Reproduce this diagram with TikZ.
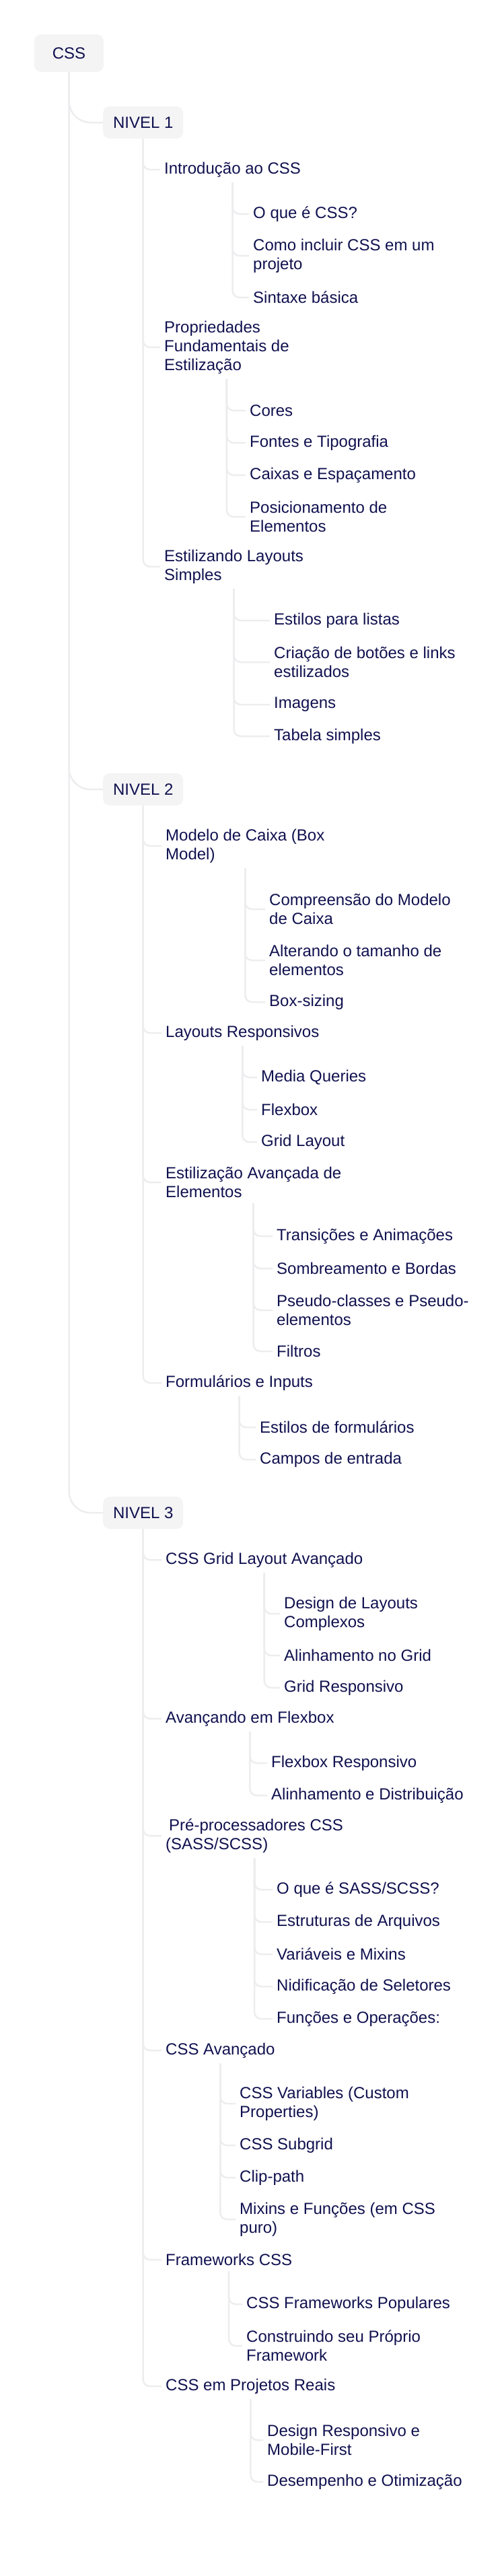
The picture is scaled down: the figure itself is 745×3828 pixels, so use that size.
\documentclass[tikz,border=0pt]{standalone}
\usepackage{fontspec}
\setmainfont{Liberation Sans}
\definecolor{ink}{HTML}{10114F}
\definecolor{boxgray}{HTML}{F4F4F5}
\definecolor{linegray}{HTML}{EDEDEF}
\tikzset{
  txt/.style={font=\fontsize{24}{28}\selectfont, text=ink},
  nivel/.style={txt, fill=boxgray, rounded corners=10pt, minimum height=48pt,
    minimum width=119pt, inner xsep=14pt, anchor=west},
  topic/.style={txt, align=left, anchor=west, inner xsep=6pt, inner ysep=8pt},
  link/.style={draw=linegray, line width=2.5pt, rounded corners=10pt},
  mainlink/.style={link, rounded corners=32pt}
}
\begin{document}
\begin{tikzpicture}[x=1pt,y=-1pt]
  \useasboundingbox (0,0) rectangle (745,3828);
  % raiz e niveis
  \node[nivel, anchor=center, minimum width=103pt, minimum height=56pt] (root) at (102.5,79) {CSS};
  \node[nivel] (nivA) at (153,182) {NIVEL 1};
  \node[nivel] (nivB) at (153,1173) {NIVEL 2};
  \node[nivel] (nivC) at (153,2248) {NIVEL 3};

  % nivel 1
  \node[topic] (intro) at (238,252) {Introdução ao CSS};
  \node[topic] (intro1) at (370,318) {O que é CSS?};
  \node[topic] (intro2) at (370,380) {Como incluir CSS em um\\projeto};
  \node[topic] (intro3) at (370,442) {Sintaxe básica};
  \node[topic] (props) at (238,516) {Propriedades\\Fundamentais de\\Estilização};
  \node[topic] (props1) at (365,610) {Cores};
  \node[topic] (props2) at (365,658) {Fontes e Tipografia};
  \node[topic] (props3) at (365,706) {Caixas e Espaçamento};
  \node[topic] (props4) at (365,768) {Posicionamento de\\Elementos};
  \node[topic] (lay) at (238,842) {Estilizando Layouts\\Simples};
  \node[topic] (lay1) at (401,922) {Estilos para listas};
  \node[topic] (lay2) at (401,984) {Criação de botões e links\\estilizados};
  \node[topic] (lay3) at (401,1047) {Imagens};
  \node[topic] (lay4) at (401,1094) {Tabela simples};

  % nivel 2
  \node[topic] (caixa) at (240,1257) {Modelo de Caixa (Box\\Model)};
  \node[topic] (caixa1) at (394,1351) {Compreensão do Modelo\\de Caixa};
  \node[topic] (caixa2) at (394,1427) {Alterando o tamanho de\\elementos};
  \node[topic] (caixa3) at (394,1489) {Box-sizing};
  \node[topic] (resp) at (240,1535) {Layouts Responsivos};
  \node[topic] (resp1) at (382,1601) {Media Queries};
  \node[topic] (resp2) at (382,1649) {Flexbox};
  \node[topic] (resp3) at (382,1697) {Grid Layout};
  \node[topic] (estav) at (240,1757) {Estilização Avançada de\\Elementos};
  \node[topic] (estav1) at (405,1837) {Transições e Animações};
  \node[topic] (estav2) at (405,1885) {Sombreamento e Bordas};
  \node[topic] (estav3) at (405,1947) {Pseudo-classes e Pseudo-\\elementos};
  \node[topic] (estav4) at (405,2008) {Filtros};
  \node[topic] (form) at (240,2055) {Formulários e Inputs};
  \node[topic] (form1) at (380,2121) {Estilos de formulários};
  \node[topic] (form2) at (380,2169) {Campos de entrada};

  % nivel 3
  \node[topic] (grid) at (240,2318) {CSS Grid Layout Avançado};
  \node[topic] (grid1) at (416,2398) {Design de Layouts\\Complexos};
  \node[topic] (grid2) at (416,2460) {Alinhamento no Grid};
  \node[topic] (grid3) at (416,2508) {Grid Responsivo};
  \node[topic] (flex) at (240,2554) {Avançando em Flexbox};
  \node[topic] (flex1) at (397,2620) {Flexbox Responsivo};
  \node[topic] (flex2) at (397,2668) {Alinhamento e Distribuição};
  \node[topic] (pre) at (240,2728) {\hspace{5pt}Pré-processadores CSS\\(SASS/SCSS)};
  \node[topic] (pre1) at (405,2808) {O que é SASS/SCSS?};
  \node[topic] (pre2) at (405,2856) {Estruturas de Arquivos};
  \node[topic] (pre3) at (405,2904) {Variáveis e Mixins};
  \node[topic] (pre4) at (405,2952) {Nidificação de Seletores};
  \node[topic] (pre5) at (405,3000) {Funções e Operações:};
  \node[topic] (avan) at (240,3047) {CSS Avançado};
  \node[topic] (avan1) at (350,3126) {CSS Variables (Custom\\Properties)};
  \node[topic] (avan2) at (350,3188) {CSS Subgrid};
  \node[topic] (avan3) at (350,3236) {Clip-path};
  \node[topic] (avan4) at (350,3298) {Mixins e Funções (em CSS\\puro)};
  \node[topic] (frame) at (240,3358) {Frameworks CSS};
  \node[topic] (frame1) at (360,3424) {CSS Frameworks Populares};
  \node[topic] (frame2) at (360,3486) {Construindo seu Próprio\\Framework};
  \node[topic] (reais) at (240,3546) {CSS em Projetos Reais};
  \node[topic] (reais1) at (391,3626) {Design Responsivo e\\Mobile-First};
  \node[topic] (reais2) at (391,3688) {Desempenho e Otimização};

  % ligacoes
  \foreach \n in {nivA,nivB,nivC}
    \draw[mainlink] (root.south) |- (\n.west);
  \foreach \n in {intro,props,lay}
    \draw[link] (nivA.south) |- (\n.west);
  \foreach \n in {caixa,resp,estav,form}
    \draw[link] (nivB.south) |- (\n.west);
  \foreach \n in {grid,flex,pre,avan,frame,reais}
    \draw[link] (nivC.south) |- (\n.west);
  \foreach \p/\k in {intro/3,props/4,lay/4,caixa/3,resp/3,estav/4,form/2,
                     grid/3,flex/2,pre/5,avan/4,frame/2,reais/2}
    \foreach \i in {1,...,\k}
      \draw[link] (\p.south) |- (\p\i.west);
\end{tikzpicture}
\end{document}
